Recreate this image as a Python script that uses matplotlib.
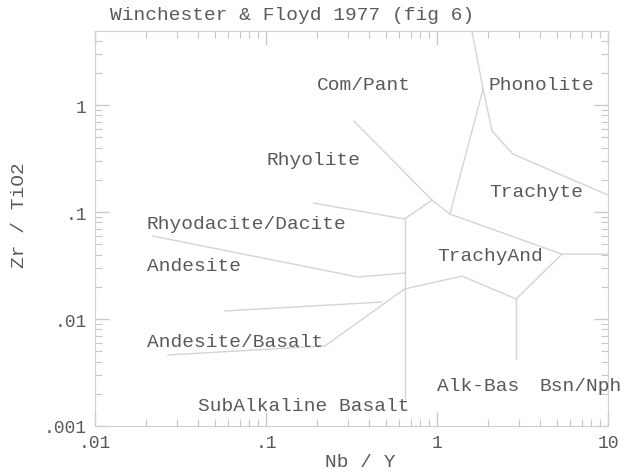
import matplotlib
matplotlib.use("Agg")
import matplotlib.pyplot as plt
from matplotlib.ticker import FixedLocator, LogLocator, NullFormatter

plt.rcParams['font.family'] = ['Liberation Mono', 'DejaVu Sans Mono']

# field boundaries (Nb/Y, Zr/TiO2)
compant_x = [0.327, 0.935, 1.19]
compant_y = [0.708, 0.129, 0.0957]
rhyolite_x = [0.191, 0.646, 0.935]
rhyolite_y = [0.121, 0.0861, 0.129]
dacite_x = [0.0218, 0.345, 0.646]
dacite_y = [0.0597, 0.0247, 0.0269]
andesite_x = [0.0575, 0.476]
andesite_y = [0.0119, 0.0144]
basalt_x = [0.0267, 0.221, 0.646, 1.40, 2.90, 5.38, 10.0]
basalt_y = [0.00461, 0.0056, 0.0191, 0.0252, 0.0154, 0.0404, 0.0404]
split_x = [0.646, 0.646]
split_y = [0.0861, 0.00179]
alkbas_x = [2.90, 2.90]
alkbas_y = [0.0154, 0.00423]
trachyte_x = [1.19, 5.38]
trachyte_y = [0.0957, 0.0404]
phon_left_x = [1.19, 1.86, 1.60]
phon_left_y = [0.0957, 1.41, 4.92]
phon_right_x = [1.86, 2.10, 2.78, 10.0]
phon_right_y = [1.41, 0.571, 0.348, 0.144]

boundaries = [
    (compant_x, compant_y), (rhyolite_x, rhyolite_y), (dacite_x, dacite_y),
    (andesite_x, andesite_y), (basalt_x, basalt_y), (split_x, split_y),
    (alkbas_x, alkbas_y), (trachyte_x, trachyte_y),
    (phon_left_x, phon_left_y), (phon_right_x, phon_right_y),
]

# field names and where they sit
field_names = ["Com/Pant", "Phonolite", "Rhyolite", "Trachyte", "Rhyodacite/Dacite",
               "Andesite", "TrachyAnd", "Andesite/Basalt", "Alk-Bas", "Bsn/Nph",
               "SubAlkaline Basalt"]
field_x = [0.199, 2.01, 0.1, 2.01, 0.0201, 0.0201, 1.0, 0.0201, 1.0, 3.95, 0.040]
field_y = [1.57, 1.57, 0.313, 0.157, 0.0788, 0.0313, 0.0396, 0.00622, 0.00237, 0.00237, 0.00157]

x_ticks = [0.01, 0.1, 1, 10]
x_ticklabels = [".01", ".1", "1", "10"]
y_ticks = [0.001, 0.01, 0.1, 1]
y_ticklabels = [".001", ".01", ".1", "1"]

line_col = '#d4d4d4'
text_col = '#5a5a5a'

fig = plt.figure(figsize=(6.26, 4.77), dpi=100)
ax = fig.add_axes([95/626, 1 - 427/477, 513/626, 395/477])
ax.set_xscale('log')
ax.set_yscale('log')
ax.set_xlim(0.01, 10)
ax.set_ylim(0.001, 4.92)

for bx, by in boundaries:
    ax.plot(bx, by, color=line_col, lw=1.0)

for name, tx, ty in zip(field_names, field_x, field_y):
    ax.text(tx, ty, name, fontsize=14, color=text_col, ha='left', va='center')

ax.xaxis.set_major_locator(FixedLocator(x_ticks))
ax.set_xticklabels(x_ticklabels)
ax.yaxis.set_major_locator(FixedLocator(y_ticks))
ax.set_yticklabels(y_ticklabels)
ax.xaxis.set_minor_locator(LogLocator(base=10, subs=range(2, 10)))
ax.yaxis.set_minor_locator(LogLocator(base=10, subs=range(2, 10)))
ax.xaxis.set_minor_formatter(NullFormatter())
ax.yaxis.set_minor_formatter(NullFormatter())

ax.tick_params(which='both', direction='in', top=True, right=True,
               color='#c8c8c8', labelcolor=text_col, labelsize=13)
ax.tick_params(which='major', length=10, width=1, pad=6)
ax.tick_params(which='minor', length=5, width=0.8)
for s in ax.spines.values():
    s.set_color('#d0d0d0')

fig.text(110/626, 1 - 15/477, "Winchester & Floyd 1977 (fig 6)", fontsize=14,
         color=text_col, ha='left', va='center')
fig.text(360/626, 1 - 463/477, "Nb / Y", fontsize=14, color=text_col,
         ha='center', va='center')
fig.text(20/626, 1 - 215/477, "Zr / TiO2", fontsize=14, color=text_col,
         ha='center', va='center', rotation=90)

fig.savefig("out.png", dpi=100)
